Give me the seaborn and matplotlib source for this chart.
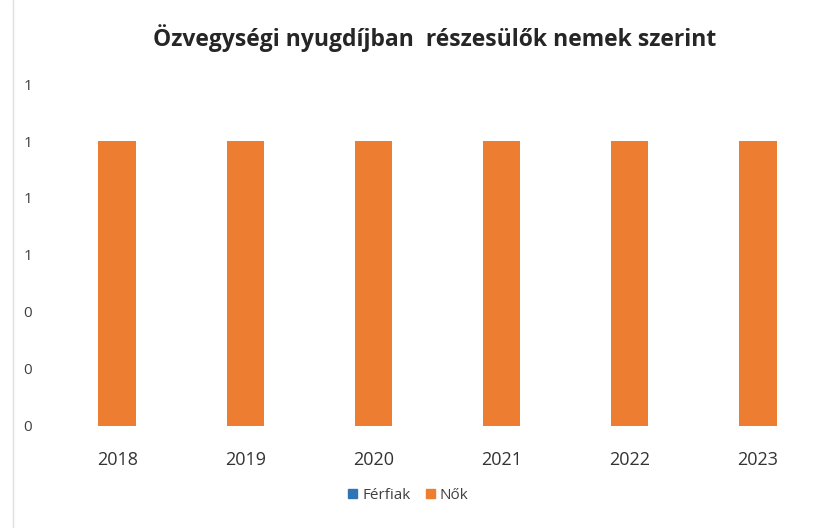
import matplotlib
matplotlib.use("Agg")
import matplotlib.pyplot as plt
import seaborn as sns
import pandas as pd
from matplotlib.ticker import FixedLocator, FuncFormatter
from matplotlib.patches import Patch

years = ["2018", "2019", "2020", "2021", "2022", "2023"]
ferfiak = [0, 0, 0, 0, 0, 0]
nok = [1, 1, 1, 1, 1, 1]
y_ticks = [0, 0.2, 0.4, 0.6, 0.8, 1.0, 1.2]

sns.set_theme(style="white")
plt.rcParams['font.family'] = ['Open Sans', 'DejaVu Sans']

c_f = "#2E75B6"
c_n = "#ED7D31"

fig = plt.figure(figsize=(8.33, 5.28), dpi=100)
ax = fig.add_axes([0.0636, 0.1932, 0.9232, 0.6477])

df = pd.DataFrame({"year": years, "Férfiak": ferfiak, "Nők": nok})
sns.barplot(data=df, x="year", y="Férfiak", color=c_f, width=0.29, ax=ax,
            saturation=1, linewidth=0)
sns.barplot(data=df, x="year", y="Nők", color=c_n, width=0.29, ax=ax,
            saturation=1, linewidth=0, bottom=df["Férfiak"])

ax.set_xlim(-0.5, 5.5)
ax.set_ylim(0, 1.2)
ax.yaxis.set_major_locator(FixedLocator(y_ticks))
ax.yaxis.set_major_formatter(FuncFormatter(lambda v, p: f"{v:.0f}"))
ax.set_xlabel("")
ax.set_ylabel("")
for s in ["top", "right", "left", "bottom"]:
    ax.spines[s].set_visible(False)
ax.tick_params(axis="y", length=0, pad=15, labelsize=11, colors="#404040")
ax.tick_params(axis="x", length=0, pad=18, labelsize=13, colors="#333333")

fig.text(0.522, 0.928, "Özvegységi nyugdíjban  részesülők nemek szerint",
         ha="center", va="center", fontsize=16.5, fontweight="bold", color="#262626")

handles = [Patch(color=c_f, label="Férfiak"), Patch(color=c_n, label="Nők")]
fig.legend(handles=handles, loc="center", bbox_to_anchor=(0.49, 0.062), ncol=2,
           frameon=False, fontsize=11, handlelength=0.6, handleheight=0.6,
           handletextpad=0.3, columnspacing=1.0, labelcolor="#404040")

fig.add_artist(plt.Line2D([0.016, 0.016], [0.0, 1.0], color="#E0E0E0", lw=1,
                          transform=fig.transFigure))

fig.savefig("out.png", dpi=100)
